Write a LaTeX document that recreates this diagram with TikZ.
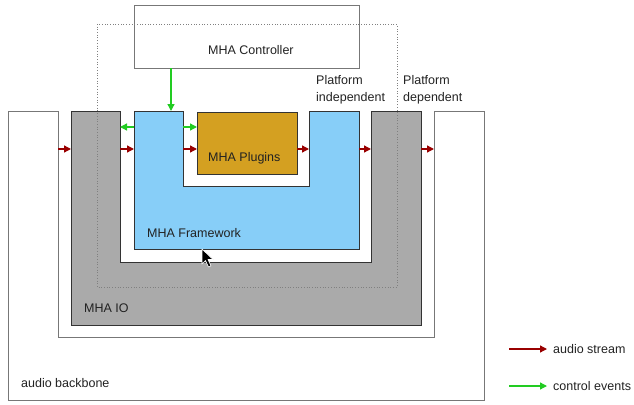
\documentclass[tikz,border=0pt]{standalone}
\usepackage{fontspec}
\setmainfont{Liberation Sans}
\usetikzlibrary{arrows.meta}
\definecolor{txt}{HTML}{222222}
\definecolor{edge}{HTML}{333333}
\definecolor{bbedge}{HTML}{777777}
\definecolor{iogray}{HTML}{AAAAAA}
\definecolor{fwblue}{HTML}{87CEF8}
\definecolor{plug}{HTML}{D4A021}
\definecolor{audio}{HTML}{990000}
\definecolor{ctrl}{HTML}{22CC22}
\tikzset{
  lbl/.style={font=\fontsize{12.5}{14}\selectfont, text=txt, inner sep=0pt, anchor=base west},
  audioarr/.style={draw=audio, line width=1.3pt, -{Triangle[length=7pt,width=7pt]}},
  ctrlarr/.style={draw=ctrl, line width=1.3pt, -{Triangle[length=7pt,width=7pt]}},
  box/.style={draw=edge, line width=0.8pt},
}
\begin{document}
\begin{tikzpicture}[x=1pt,y=-1pt]
\useasboundingbox (0,0) rectangle (634,404);
% audio backbone
\draw[draw=bbedge, line width=1pt, fill=white] (8,111) -- (58,111) -- (58,337) -- (434,337) -- (434,111) -- (484,111) -- (484,400) -- (8,400) -- cycle;
% MHA IO
\draw[box, fill=iogray] (71,111) -- (120,111) -- (120,262) -- (371,262) -- (371,111) -- (421,111) -- (421,325) -- (71,325) -- cycle;
% MHA Framework
\draw[box, fill=fwblue] (134,111) -- (183,111) -- (183,186) -- (309,186) -- (309,111) -- (359,111) -- (359,249) -- (134,249) -- cycle;
% Plugins
\node[box, fill=plug, minimum width=100pt, minimum height=62pt, anchor=north west, inner sep=0pt] (plug) at (197,112) {};
\node[lbl] (pluglbl) at (208,161) {MHA Plugins};
% Controller
\node[draw=bbedge, line width=1pt, fill=white, minimum width=225pt, minimum height=63pt, anchor=north west, inner sep=0pt] (ctrlbox) at (134,5) {};
\node[lbl] (ctrllbl) at (208,55) {MHA Controller};
% dotted frame
\draw[draw=gray, dotted, line width=0.7pt] (97,24) rectangle (397,287);
% labels
\node[lbl] (pi1) at (316,84) {Platform};
\node[lbl] (pi2) at (316,101) {independent};
\node[lbl] (pd1) at (403,84) {Platform};
\node[lbl] (pd2) at (403,101) {dependent};
\node[lbl] (fwl) at (147,237) {MHA Framework};
\node[lbl] (iol) at (84,312) {MHA IO};
\node[lbl] (abl) at (21,387) {audio backbone};
% audio arrows
\coordinate (a0) at (58,149);
\coordinate (a1) at (71,149);
\coordinate (a2) at (120,149);
\coordinate (a3) at (134,149);
\coordinate (a4) at (183,149);
\coordinate (a5) at (197,149);
\coordinate (a6) at (297,149);
\coordinate (a7) at (309,149);
\coordinate (a8) at (359,149);
\coordinate (a9) at (371,149);
\coordinate (a10) at (421,149);
\coordinate (a11) at (434,149);
\draw[audioarr] (a0) -- (a1);
\draw[audioarr] (a2) -- (a3);
\draw[audioarr] (a4) -- (a5);
\draw[audioarr] (a6) -- (a7);
\draw[audioarr] (a8) -- (a9);
\draw[audioarr] (a10) -- (a11);
% control arrows
\coordinate (c0) at (171,68);
\coordinate (c1) at (171,111);
\coordinate (c2) at (134,127);
\coordinate (c3) at (120,127);
\coordinate (c4) at (183,127);
\coordinate (c5) at (197,127);
\draw[ctrlarr] (c0) -- (c1);
\draw[ctrlarr] (c2) -- (c3);
\draw[ctrlarr] (c4) -- (c5);
% legend
\coordinate (l0) at (509,349);
\coordinate (l1) at (547,349);
\coordinate (l2) at (509,386);
\coordinate (l3) at (547,386);
\draw[audioarr] (l0) -- (l1);
\draw[ctrlarr] (l2) -- (l3);
\node[lbl] (leg1) at (553,353) {audio stream};
\node[lbl] (leg2) at (553,390) {control events};
% mouse cursor
\draw[fill=black, draw=white, line width=0.6pt, line join=round] (202,249) -- (202,264) -- (205.5,260.5) -- (208.5,267) -- (211,266) -- (208,259.5) -- (213,259.5) -- cycle;
\end{tikzpicture}
\end{document}
